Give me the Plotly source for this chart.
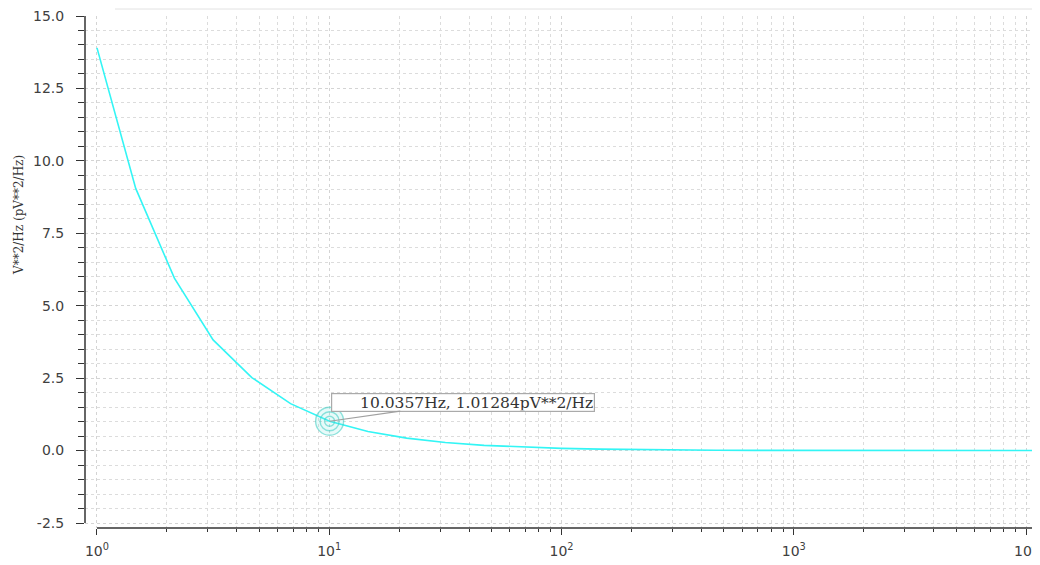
import math
import plotly.graph_objects as go

# ---- data ----
freq_hz = [1.0, 1.468, 2.154, 3.162, 4.642, 6.813, 10.0357, 14.68, 21.54, 31.62,
           46.42, 68.13, 100.0, 146.8, 215.4, 316.2, 464.2, 681.3, 1000.0,
           1468.0, 2154.0, 3162.0, 4642.0, 6813.0, 10000.0, 11500.0]
psd_pv2 = [13.9, 9.05, 5.95, 3.82, 2.52, 1.62, 1.01284, 0.66, 0.43, 0.28,
           0.18, 0.12, 0.075, 0.05, 0.032, 0.021, 0.013, 0.008, 0.005,
           0.0035, 0.002, 0.0015, 0.001, 0.0006, 0.0004, 0.0003]

marker_f = 10.0357
marker_v = 1.01284
marker_text = "10.0357Hz, 1.01284pV**2/Hz"

x_major_vals = [1, 10, 100, 1000, 10000]
x_major_text = ["10<sup>0</sup>", "10<sup>1</sup>", "10<sup>2</sup>",
                "10<sup>3</sup>", "10<sup>4</sup>"]
x_minor_mult = [2, 3, 4, 5, 6, 7, 8, 9]
y_major_vals = [-2.5, 0.0, 2.5, 5.0, 7.5, 10.0, 12.5, 15.0]
y_major_text = ["-2.5", "0.0", "2.5", "5.0", "7.5", "10.0", "12.5", "15.0"]
y_title = "V**2/Hz (pV**2/Hz)"

x_minor_vals = [m * d for d in [1, 10, 100, 1000, 10000] for m in x_minor_mult]

# page body has an 8px margin; plot area spans x 85..1040, y 16..528 on screen
PW = 955
PH = 512
GAP = 12  # pixels between y axis and the start of the x axis (10^0)

fig = go.Figure()
fig.add_trace(go.Scatter(x=freq_hz, y=psd_pv2, mode="lines",
                         line=dict(color="#33f5f5", width=1.6),
                         hoverinfo="skip", showlegend=False))
# concentric marker rings
fig.add_trace(go.Scatter(x=[marker_f], y=[marker_v], mode="markers",
                         marker=dict(symbol="circle", size=28,
                                     color="rgba(120,230,220,0.18)"),
                         hoverinfo="skip", showlegend=False))
fig.add_trace(go.Scatter(x=[marker_f] * 3, y=[marker_v] * 3, mode="markers",
                         marker=dict(symbol="circle-open", size=[28, 19, 10],
                                     color="rgba(60,205,195,0.8)",
                                     line=dict(width=1.4)),
                         hoverinfo="skip", showlegend=False))

fig.add_annotation(x=math.log10(marker_f), y=marker_v, xref="x", yref="y",
                   text=marker_text, showarrow=True, arrowhead=0,
                   arrowcolor="#a0a0a0", arrowwidth=1.2,
                   ax=133, ay=-19, xanchor="center", yanchor="middle",
                   width=260, height=15, align="right",
                   bgcolor="white", bordercolor="#aaaaaa", borderwidth=1.2,
                   borderpad=1,
                   font=dict(family="DejaVu Serif", size=15.5, color="#333333"))

fig.add_annotation(text=y_title, xref="paper", yref="paper",
                   x=(19 - 85) / PW, y=(528 - 215) / PH, textangle=-90,
                   showarrow=False, xanchor="center", yanchor="middle",
                   font=dict(family="DejaVu Serif", size=12, color="#333333"))

# hide horizontal grid in the gap left of 10^0
fig.add_shape(type="rect", xref="paper", yref="paper", layer="between",
              x0=0.0015, x1=(GAP - 0.5) / PW, y0=0, y1=1,
              fillcolor="white", line=dict(width=0))
# y axis line (ends at -2.5)
fig.add_shape(type="line", xref="paper", yref="y",
              x0=0, x1=0, y0=-2.5, y1=15,
              line=dict(color="#333333", width=1.5))
# x axis line (starts at 10^0)
fig.add_shape(type="line", xref="paper", yref="paper",
              x0=GAP / PW, x1=1, y0=0, y1=0,
              line=dict(color="#333333", width=1.5))
# faint top border
fig.add_shape(type="line", xref="paper", yref="paper",
              x0=(115 - 85) / PW, x1=1, y0=(528 - 9) / PH, y1=(528 - 9) / PH,
              line=dict(color="#e2e2e2", width=1))

fig.update_layout(
    width=1032, height=557,
    margin=dict(l=77, r=0, t=8, b=37, autoexpand=False),
    paper_bgcolor="white", plot_bgcolor="white",
    showlegend=False,
    font=dict(family="DejaVu Sans", size=13, color="#444444"),
)
fig.update_xaxes(
    type="log", range=[-GAP / 232.5, 4 + 14 / 232.5],
    tickmode="array", tickvals=x_major_vals, ticktext=x_major_text,
    ticks="outside", ticklen=6, tickwidth=1.3, tickcolor="#333333",
    showline=False,
    showgrid=True, gridcolor="#d4d4d4", griddash="dot", gridwidth=1,
    zeroline=False, ticklabelstandoff=4, ticklabeloverflow="allow",
    tickfont=dict(family="DejaVu Sans", size=14, color="#404040"),
    minor=dict(tickmode="array", tickvals=x_minor_vals, ticks="outside",
               ticklen=3, tickwidth=1.2, tickcolor="#333333",
               showgrid=True, gridcolor="#dcdcdc", griddash="dot", gridwidth=1),
)
fig.update_yaxes(
    range=[-2.5 - 5 / 28.97, 15],
    tickmode="array", tickvals=y_major_vals, ticktext=y_major_text,
    ticks="outside", ticklen=8, tickwidth=1.3, tickcolor="#333333",
    showline=False, zeroline=False, ticklabelstandoff=9,
    ticklabeloverflow="allow",
    showgrid=True, gridcolor="#d4d4d4", griddash="dot", gridwidth=1,
    tickfont=dict(family="DejaVu Sans", size=14, color="#404040"),
    minor=dict(dtick=0.5, tick0=-2.5, ticks="outside", ticklen=6,
               tickwidth=1.2, tickcolor="#333333",
               showgrid=True, gridcolor="#dcdcdc", griddash="dot", gridwidth=1),
)

fig.write_html("out.html")
